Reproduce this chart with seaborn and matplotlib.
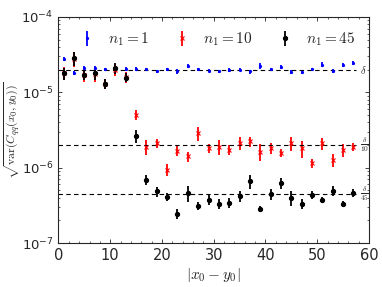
import numpy as np
import matplotlib
matplotlib.use("Agg")
import matplotlib.pyplot as plt
import matplotlib.ticker as mticker
import seaborn as sns

# separations |x0 - y0|
dist = [1, 3, 5, 7, 9, 11, 13, 15, 17, 19, 21, 23, 25, 27, 29,
        31, 33, 35, 37, 39, 41, 43, 45, 47, 49, 51, 53, 55, 57]

# n1 = 1 (blue)
std_n1 = [2.78e-5, 1.80e-5, 2.09e-5, 2.09e-5, 2.03e-5, 2.06e-5, 2.06e-5, 2.03e-5,
          2.03e-5, 1.91e-5, 2.03e-5, 1.89e-5, 2.24e-5, 2.03e-5, 1.93e-5,
          1.89e-5, 1.99e-5, 1.99e-5, 1.89e-5, 2.24e-5, 2.03e-5, 2.16e-5,
          1.87e-5, 1.87e-5, 2.03e-5, 2.32e-5, 1.93e-5, 2.32e-5, 2.44e-5]
rel_n1 = [0.07, 0.06, 0.06, 0.06, 0.05, 0.06, 0.06, 0.06, 0.05, 0.05, 0.05, 0.07,
          0.07, 0.05, 0.05, 0.05, 0.06, 0.05, 0.06, 0.08, 0.05, 0.06, 0.05,
          0.05, 0.05, 0.08, 0.06, 0.07, 0.06]

# n1 = 10 (red)
std_n10 = [1.80e-5, 2.80e-5, 1.70e-5, 1.75e-5, 1.30e-5, 2.00e-5, 1.60e-5, 5.0e-6,
           1.91e-6, 2.12e-6, 9.4e-7, 1.69e-6, 1.41e-6, 2.88e-6, 1.82e-6,
           1.91e-6, 1.73e-6, 2.12e-6, 2.23e-6, 1.64e-6, 1.82e-6, 1.56e-6,
           2.12e-6, 1.82e-6, 1.15e-6, 2.12e-6, 1.28e-6, 1.73e-6, 1.91e-6]
rel_n10 = [0.2, 0.22, 0.2, 0.22, 0.15, 0.18, 0.18, 0.15, 0.22, 0.15, 0.18, 0.16,
           0.15, 0.22, 0.15, 0.22, 0.16, 0.2, 0.15, 0.25, 0.16, 0.12, 0.22,
           0.25, 0.15, 0.18, 0.2, 0.2, 0.12]

# n1 = 45 (black)
std_n45 = [1.80e-5, 2.84e-5, 1.71e-5, 1.80e-5, 1.29e-5, 2.09e-5, 1.57e-5, 2.65e-6,
           6.93e-7, 4.85e-7, 4.09e-7, 2.46e-7, 4.62e-7, 3.09e-7, 3.77e-7,
           3.30e-7, 3.40e-7, 4.17e-7, 6.59e-7, 2.86e-7, 4.49e-7, 6.27e-7,
           3.97e-7, 3.30e-7, 4.39e-7, 3.77e-7, 4.95e-7, 3.33e-7, 4.62e-7]
rel_n45 = [0.18, 0.22, 0.16, 0.2, 0.15, 0.16, 0.14, 0.2, 0.16, 0.15, 0.12, 0.15,
           0.25, 0.12, 0.15, 0.15, 0.15, 0.16, 0.22, 0.1, 0.18, 0.18, 0.22,
           0.15, 0.12, 0.1, 0.16, 0.1, 0.12]

delta = 2e-5
ref_levels = [delta, delta / 10, delta / 45]
ref_labels = [r"$\delta$", r"$\frac{\delta}{10}$", r"$\frac{\delta}{45}$"]

sns.set_style("ticks")
plt.rcParams["mathtext.fontset"] = "cm"
plt.rcParams["font.family"] = ["DejaVu Sans"]

fig, ax = plt.subplots(figsize=(3.82, 2.87), dpi=100)
fig.subplots_adjust(left=0.153, right=0.966, top=0.941, bottom=0.153)

series = [
    (std_n1, rel_n1, "#0000ff", ".", 3, r"$n_1=1$"),
    (std_n10, rel_n10, "#ff0000", "x", 3, r"$n_1=10$"),
    (std_n45, rel_n45, "black", "o", 3, r"$n_1=45$"),
]
for vals, rel, col, mk, ms, lab in series:
    vals = np.array(vals)
    err = vals * np.array(rel)
    ax.errorbar(dist, vals, yerr=err, fmt=mk, color=col, ms=ms, mew=0.8,
                elinewidth=1.3, capsize=0, label=lab)

for lvl, lab in zip(ref_levels, ref_labels):
    ax.hlines(lvl, 0, 57.5, colors="black", linestyles=(0, (4, 3)), lw=0.8)
    ax.text(58.3, lvl, lab, fontsize=7.5, va="center", ha="left")

ax.set_yscale("log")
ax.set_xlim(0, 60)
ax.set_ylim(1e-7, 1e-4)
ax.set_xticks([0, 10, 20, 30, 40, 50, 60])
ax.xaxis.set_minor_locator(mticker.MultipleLocator(2))
ax.set_yticks([1e-7, 1e-6, 1e-5, 1e-4])
ax.set_yticklabels([r"$\mathregular{10^{-7}}$", r"$\mathregular{10^{-6}}$",
                    r"$\mathregular{10^{-5}}$", r"$\mathregular{10^{-4}}$"])
ax.yaxis.set_minor_locator(mticker.LogLocator(base=10, subs=np.arange(2, 10)))
ax.yaxis.set_minor_formatter(mticker.NullFormatter())
ax.tick_params(which="both", direction="in", top=True, right=True, labelsize=9.5)
ax.tick_params(axis="x", labelsize=10.5)
ax.tick_params(which="major", length=3, width=0.6)
ax.tick_params(which="minor", length=1.5, width=0.5)
for sp in ax.spines.values():
    sp.set_linewidth(0.8)

ax.set_xlabel(r"$|x_0 - y_0|$", fontsize=11, labelpad=2)
ax.set_ylabel(r"$\sqrt{\mathrm{var}(C_{qq}(x_0,y_0))}$", fontsize=8.5, va="center")
ax.yaxis.set_label_coords(-0.15, 0.5)

ax.legend(loc="upper right", bbox_to_anchor=(1.0, 1.0), ncol=3, frameon=False,
          fontsize=11, handlelength=0.8, handletextpad=1.0, columnspacing=1.7)

fig.savefig("out.png", dpi=100)
